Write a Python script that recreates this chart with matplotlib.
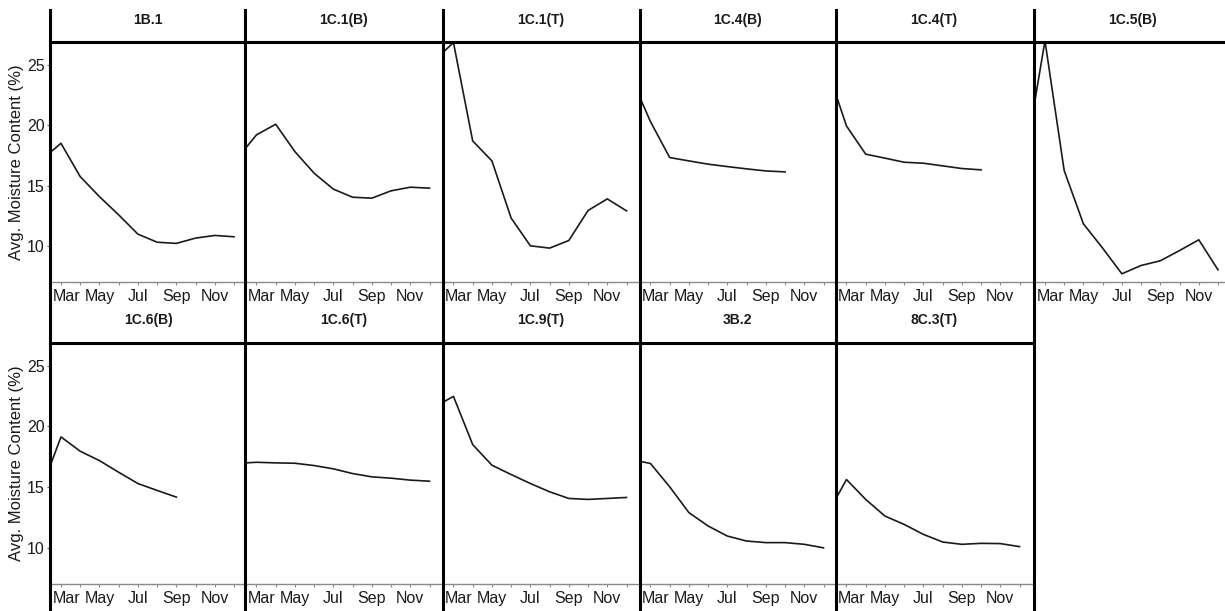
import matplotlib.pyplot as plt
from matplotlib.lines import Line2D
from matplotlib.transforms import ScaledTranslation

plt.rcParams['font.family'] = ['Liberation Sans', 'DejaVu Sans']

# monthly averages, Feb..Dec (some sites stop early)
months = [2, 3, 4, 5, 6, 7, 8, 9, 10, 11, 12]
month_ticks = [3, 5, 7, 9, 11]
month_labels = ["Mar", "May", "Jul", "Sep", "Nov"]
y_ticks = [10, 15, 20, 25]

sites = ["1B.1", "1C.1(B)", "1C.1(T)", "1C.4(B)", "1C.4(T)", "1C.5(B)",
         "1C.6(B)", "1C.6(T)", "1C.9(T)", "3B.2", "8C.3(T)"]

mc_1b1 = [17.15, 18.5, 15.74, 14.08, 12.57, 10.97, 10.3, 10.2, 10.64, 10.86, 10.75]
mc_1c1b = [17.25, 19.2, 20.08, 17.81, 16.02, 14.7, 14.03, 13.95, 14.56, 14.86, 14.78]
mc_1c1t = [25.37, 26.85, 18.7, 17.04, 12.3, 10.0, 9.81, 10.44, 12.93, 13.89, 12.9]
mc_1c4b = [23.93, 20.3, 17.32, 17.04, 16.77, 16.57, 16.38, 16.21, 16.13]
mc_1c4t = [24.7, 19.94, 17.6, 17.27, 16.93, 16.85, 16.63, 16.41, 16.3]
mc_1c5b = [17.5, 27.0, 16.24, 11.82, 9.81, 7.68, 8.37, 8.76, 9.61, 10.5, 8.01]
mc_1c6b = [14.87, 19.12, 17.94, 17.17, 16.21, 15.28, 14.71, 14.16]
mc_1c6t = [16.94, 17.03, 16.98, 16.95, 16.76, 16.49, 16.1, 15.83, 15.72, 15.56, 15.47]
mc_1c9t = [21.58, 22.46, 18.49, 16.79, 16.02, 15.28, 14.6, 14.05, 13.97, 14.05, 14.13]
mc_3b2 = [17.26, 16.93, 15.01, 12.88, 11.78, 10.95, 10.54, 10.41, 10.41, 10.27, 9.98]
mc_8c3t = [12.73, 15.61, 13.97, 12.6, 11.91, 11.09, 10.46, 10.27, 10.35, 10.33, 10.08]

series = [mc_1b1, mc_1c1b, mc_1c1t, mc_1c4b, mc_1c4t, mc_1c5b,
          mc_1c6b, mc_1c6t, mc_1c9t, mc_3b2, mc_8c3t]

W, H = 1225, 611
col_left = [50, 245.5, 442.5, 639.5, 835.5, 1034]
panel_w = 196.5
row_top = [42, 342.5]
row_bottom = [282, 584]
strip_y = [20, 320]


def fx(px):
    return px / W


def fy(py):
    return 1 - py / H


fig = plt.figure(figsize=(W / 100, H / 100), dpi=100)
# nudge the first month label clear of the panel border
mar_shift = ScaledTranslation(5.5 / 100, 0, fig.dpi_scale_trans)

for i, (site, vals) in enumerate(zip(sites, series)):
    row, col = divmod(i, 6)
    left = col_left[col]
    ax = fig.add_axes([fx(left), fy(row_bottom[row]), panel_w / W,
                       (row_bottom[row] - row_top[row]) / H])
    ax.plot(months[:len(vals)], vals, color='#1a1a1a', lw=1.2)
    ax.set_xlim(2.43, 12.65)
    ax.set_ylim(7.0, 26.9)

    for s in ['top', 'right', 'left']:
        ax.spines[s].set_visible(False)
    ax.spines['bottom'].set_color('#8a8a8a')
    ax.spines['bottom'].set_linewidth(1.0)

    ax.set_xticks(month_ticks)
    ax.set_xticklabels(month_labels)
    ax.set_xticks(range(3, 13), minor=True)
    ax.tick_params(axis='x', which='both', length=2.2, width=0.8,
                   color='#8a8a8a', labelsize=11.5, pad=2.5, labelcolor='#1a1a1a')
    first = ax.get_xticklabels()[0]
    first.set_transform(first.get_transform() + mar_shift)

    ax.set_yticks(y_ticks)
    if col == 0:
        ax.tick_params(axis='y', length=2.2, width=0.8, color='#555555',
                       labelsize=11.5, pad=1.5, labelcolor='#1a1a1a')
        fig.text(fx(17), fy((row_top[row] + row_bottom[row]) / 2),
                 "Avg. Moisture Content (%)", rotation=90,
                 ha='center', va='center', fontsize=12, color='#1a1a1a')
    else:
        ax.tick_params(axis='y', length=0, labelleft=False)

    fig.text(fx(left + panel_w / 2), fy(strip_y[row]), site,
             ha='center', va='center', fontsize=10, fontweight='bold',
             color='#1a1a1a')

# heavy panel borders
for x in col_left:
    fig.add_artist(Line2D([fx(x), fx(x)], [fy(10), fy(611)],
                          color='black', lw=2.2))
fig.add_artist(Line2D([fx(50), fx(1225)], [fy(row_top[0]), fy(row_top[0])],
                      color='black', lw=2.2))
fig.add_artist(Line2D([fx(50), fx(1034)], [fy(row_top[1]), fy(row_top[1])],
                      color='black', lw=2.2))

fig.savefig("out.png", dpi=100)
